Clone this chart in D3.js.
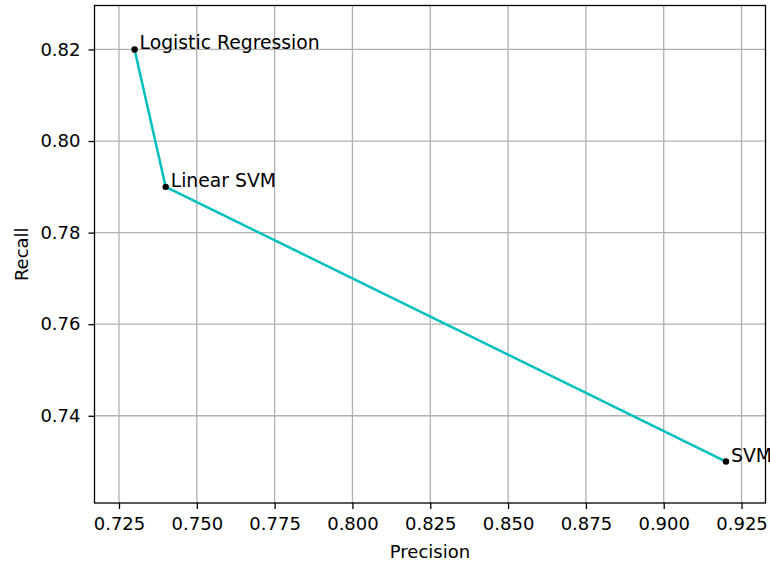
<!DOCTYPE html>
<html>
<head>
<meta charset="utf-8">
<script src="https://cdn.jsdelivr.net/npm/d3@7"></script>
<style>
  body { margin: 0; background: #fff; }
  text { font-family: "DejaVu Sans", sans-serif; fill: #000; }
</style>
</head>
<body>
<div class="chart"></div>
<script>
var width = 770;
var height = 565;

// data
var models = ["Logistic Regression", "Linear SVM", "SVM"];
var precision = [0.73, 0.74, 0.92];
var recall = [0.82, 0.79, 0.73];
var xTicks = [0.725, 0.750, 0.775, 0.800, 0.825, 0.850, 0.875, 0.900, 0.925];
var yTicks = [0.74, 0.76, 0.78, 0.80, 0.82];

// plot box (note: "top" is reserved on window, so use other names)
var plotLeft = 94.5, plotRight = 765.5, plotTop = 5.5, plotBottom = 503;

var svg = d3.select(".chart").append("svg")
  .attr("width", width)
  .attr("height", height);

var x = d3.scaleLinear()
  .domain([0.71713, 0.93270])
  .range([plotLeft, plotRight]);

var y = d3.scaleLinear()
  .domain([0.72095, 0.82960])
  .range([plotBottom, plotTop]);

// grid
svg.append("g").selectAll("line")
  .data(xTicks)
  .enter().append("line")
    .attr("x1", function(d) { return x(d); })
    .attr("x2", function(d) { return x(d); })
    .attr("y1", plotTop).attr("y2", plotBottom)
    .attr("stroke", "#b0b0b0").attr("stroke-width", 1.3);

svg.append("g").selectAll("line")
  .data(yTicks)
  .enter().append("line")
    .attr("y1", function(d) { return y(d); })
    .attr("y2", function(d) { return y(d); })
    .attr("x1", plotLeft).attr("x2", plotRight)
    .attr("stroke", "#b0b0b0").attr("stroke-width", 1.3);

// axes
var xAxis = svg.append("g")
  .attr("transform", "translate(0," + plotBottom + ")")
  .call(d3.axisBottom(x).tickValues(xTicks).tickFormat(d3.format(".3f")).tickSizeOuter(0).tickSize(6).tickPadding(8));

var yAxis = svg.append("g")
  .attr("transform", "translate(" + plotLeft + ",0)")
  .call(d3.axisLeft(y).tickValues(yTicks).tickFormat(d3.format(".2f")).tickSizeOuter(0).tickSize(6).tickPadding(8));

[xAxis, yAxis].forEach(function(a) {
  a.select(".domain").remove();
  a.selectAll(".tick line").attr("stroke", "#000").attr("stroke-width", 1.3);
  a.selectAll(".tick text")
    .attr("font-family", "DejaVu Sans")
    .attr("font-size", 18)
    .attr("fill", "#1a1a1a");
});

// frame
svg.append("rect")
  .attr("x", plotLeft).attr("y", plotTop)
  .attr("width", plotRight - plotLeft).attr("height", plotBottom - plotTop)
  .attr("fill", "none").attr("stroke", "#000").attr("stroke-width", 1.3);

// line
var pts = models.map(function(m, i) { return {name: m, p: precision[i], r: recall[i]}; });

svg.append("path")
  .datum(pts)
  .attr("fill", "none")
  .attr("stroke", "#00bfbf")
  .attr("stroke-width", 2.5)
  .attr("d", d3.line()
    .x(function(d) { return x(d.p); })
    .y(function(d) { return y(d.r); }));

svg.append("g").selectAll("circle")
  .data(pts)
  .enter().append("circle")
    .attr("cx", function(d) { return x(d.p); })
    .attr("cy", function(d) { return y(d.r); })
    .attr("r", 3.2)
    .attr("fill", "#000");

svg.append("g").selectAll("text")
  .data(pts)
  .enter().append("text")
    .attr("x", function(d) { return x(d.p) + 5; })
    .attr("y", function(d) { return y(d.r); })
    .attr("font-size", 18.8)
    .text(function(d) { return d.name; });

// axis titles
svg.append("text")
  .attr("x", (plotLeft + plotRight) / 2)
  .attr("y", 558)
  .attr("text-anchor", "middle")
  .attr("font-size", 18)
  .text("Precision");

svg.append("text")
  .attr("transform", "translate(28," + ((plotTop + plotBottom) / 2) + ") rotate(-90)")
  .attr("text-anchor", "middle")
  .attr("font-size", 18)
  .text("Recall");
</script>
</body>
</html>
